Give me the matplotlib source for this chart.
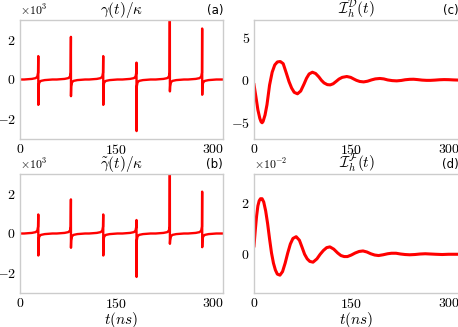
import matplotlib
matplotlib.use('Agg')
import matplotlib.pyplot as plt
import numpy as np

plt.rcParams['mathtext.fontset'] = 'cm'
plt.rcParams['font.family'] = ['cmr10', 'DejaVu Sans']
plt.rcParams['axes.formatter.use_mathtext'] = True
plt.rcParams['axes.unicode_minus'] = True

# instants des sauts (ns) et hauteurs des pics (x10^3)
spike_t = [28.5, 79.3, 129.6, 181.4, 233.3, 283.6]
gamma_up = [1.18, 2.15, 1.18, 0.85, 3.6, 2.57]
gamma_down = [-1.28, -0.84, -1.28, -2.6, -0.6, -0.77]
gtilde_up = [0.96, 1.72, 0.96, 0.68, 3.6, 2.11]
gtilde_down = [-1.11, -0.72, -1.11, -2.19, -0.52, -0.69]

# forme autour d'un saut (décalages en ns, valeurs x10^3)
pre_dt = [-22, -10, -4, -1.5, -0.4]
pre_val = [0.0, 0.03, 0.07, 0.15, 0.35]
post_dt = [0.4, 1.5, 4, 10, 22]
post_val = [-0.35, -0.15, -0.07, -0.03, 0.0]

# I_h^D(t)
t_d = [0, 3, 6, 9, 11, 12.5, 14, 17, 20, 24, 28, 32, 36, 40.5, 45, 50, 54, 58, 62, 67,
       72, 77, 81, 85, 90, 95, 100, 104, 108, 113, 117.5, 122, 127, 131, 136, 143, 149,
       154, 158, 163, 169, 175, 181, 187, 194, 200, 206, 213, 220, 227, 233, 240, 246,
       252, 259, 266, 272, 279, 286, 293, 300, 308, 316]
i_d = [-0.55, -2.0, -3.5, -4.5, -4.9, -5.0, -4.85, -4.1, -2.9, -0.6, 0.9, 1.75, 2.1, 2.15,
       1.9, 0.75, -0.2, -0.95, -1.45, -1.62, -1.3, -0.5, 0.2, 0.7, 0.9, 0.75, 0.35, -0.05,
       -0.35, -0.55, -0.58, -0.45, -0.15, 0.1, 0.3, 0.4, 0.3, 0.1, -0.05, -0.18, -0.23,
       -0.15, 0.0, 0.12, 0.17, 0.12, 0.0, -0.08, -0.11, -0.06, 0.02, 0.07, 0.08, 0.04,
       -0.02, -0.05, -0.05, -0.02, 0.02, 0.04, 0.03, 0.0, -0.02]

# I_h^F(t) (x10^-2)
t_f = [0, 2, 4, 6, 8, 10, 12.5, 15, 18, 21, 24, 27, 30, 33, 36, 40, 44, 48, 52, 56, 60, 65,
       70, 74, 78, 82, 86, 91, 97, 102, 107, 112, 117, 123, 129, 134, 139, 144, 150, 156,
       162, 168, 174, 180, 186, 192, 199, 206, 212, 219, 226, 233, 240, 248, 256, 264, 272,
       280, 290, 300, 316]
i_f = [0.33, 0.95, 1.5, 1.9, 2.1, 2.18, 2.18, 2.05, 1.7, 1.2, 0.6, 0.05, -0.35, -0.62,
       -0.78, -0.82, -0.68, -0.35, 0.05, 0.4, 0.62, 0.69, 0.55, 0.28, 0.0, -0.18, -0.28,
       -0.31, -0.18, 0.0, 0.15, 0.26, 0.29, 0.2, 0.05, -0.05, -0.09, -0.09, -0.03, 0.05,
       0.11, 0.13, 0.09, 0.02, -0.03, -0.05, -0.02, 0.02, 0.04, 0.04, 0.01, -0.01, -0.02,
       -0.01, 0.01, 0.02, 0.01, 0.0, -0.01, 0.0, 0.0]

T_MAX = 316
RED = '#ff0000'


def spike_series(ups, downs):
    t, y = [0.0], [0.0]
    for t0, up, down in zip(spike_t, ups, downs):
        t += [t0 + dt for dt in pre_dt] + [t0 - 0.05, t0 + 0.05] + [t0 + dt for dt in post_dt]
        y += pre_val + [up, down] + post_val
    t.append(T_MAX)
    y.append(0.0)
    return np.array(t), np.array(y)


def style_axes(ax, title, label):
    for sp in ax.spines.values():
        sp.set_color('#cccccc')
        sp.set_linewidth(1.0)
    ax.tick_params(length=0, labelsize=10, pad=3)
    ax.set_xlim(0, T_MAX)
    ax.set_xticks([0, 150, 300])
    ax.set_title(title, fontsize=11, pad=2)
    ax.set_title(label, loc='right', fontsize=8.5, family='DejaVu Sans', pad=4)


fig = plt.figure(figsize=(4.58, 3.27), dpi=100)
w_l, w_r, h = 203 / 458, 205 / 458, 119 / 327
ax_a = fig.add_axes([20 / 458, 1 - 139 / 327, w_l, h])
ax_c = fig.add_axes([254 / 458, 1 - 139 / 327, w_r, h])
ax_b = fig.add_axes([20 / 458, 1 - 293 / 327, w_l, h])
ax_d = fig.add_axes([254 / 458, 1 - 293 / 327, w_r, h])

t_a, y_a = spike_series(gamma_up, gamma_down)
ax_a.plot(t_a, y_a * 1e3, color=RED, lw=1.7)
ax_a.set_ylim(-3e3, 3e3)
ax_a.set_yticks([-2e3, 0, 2e3])
style_axes(ax_a, r'$\gamma(t)/\kappa$', '(a)')

t_b, y_b = spike_series(gtilde_up, gtilde_down)
ax_b.plot(t_b, y_b * 1e3, color=RED, lw=1.7)
ax_b.set_ylim(-3e3, 3e3)
ax_b.set_yticks([-2e3, 0, 2e3])
style_axes(ax_b, r'$\tilde{\gamma}(t)/\kappa$', '(b)')
ax_b.set_xlabel(r'$t(ns)$', fontsize=11, labelpad=-1)

ax_c.plot(t_d, i_d, color=RED, lw=2.2)
ax_c.set_ylim(-6.9, 7.0)
ax_c.set_yticks([-5, 0, 5])
style_axes(ax_c, r'$\mathcal{I}_h^{\mathcal{D}}(t)$', '(c)')

ax_d.plot(t_f, np.array(i_f) * 1e-2, color=RED, lw=2.2)
ax_d.set_ylim(-1.52e-2, 3.15e-2)
ax_d.set_yticks([0, 2e-2])
style_axes(ax_d, r'$\mathcal{I}_h^{\mathcal{F}}(t)$', '(d)')
ax_d.set_xlabel(r'$t(ns)$', fontsize=11, labelpad=-1)

for ax in (ax_a, ax_b, ax_d):
    ax.ticklabel_format(axis='y', style='sci', scilimits=(0, 0), useMathText=True)
    ax.yaxis.get_offset_text().set_fontsize(8.5)

fig.savefig('out.png', dpi=100)
